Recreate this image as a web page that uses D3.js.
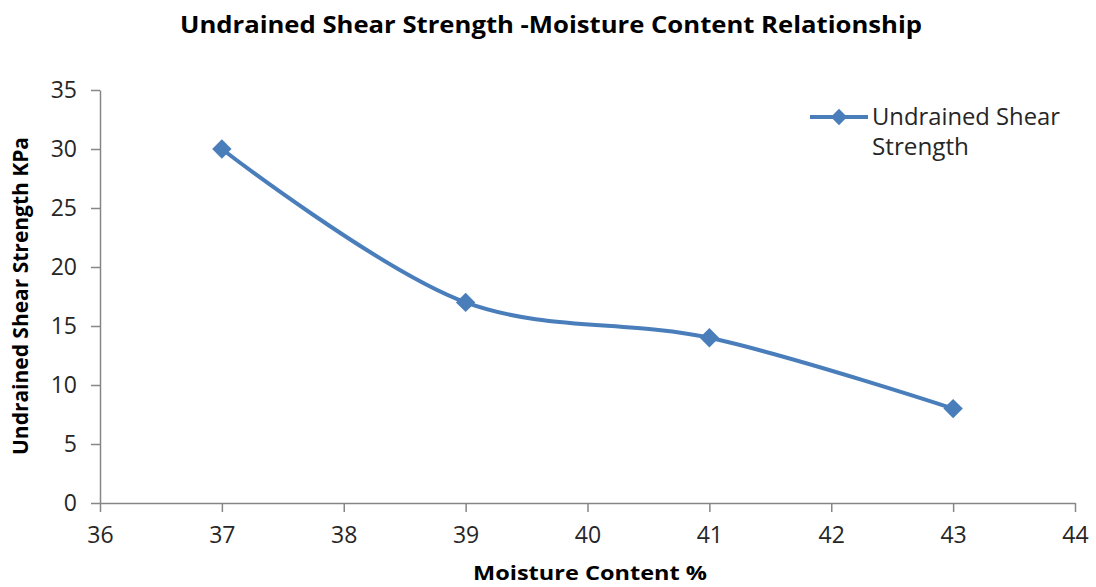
<!DOCTYPE html>
<html><head><meta charset="utf-8">
<script src="https://cdn.jsdelivr.net/npm/d3@7"></script>
<style>body{margin:0;background:#fff}svg{display:block}</style>
</head><body>
<script>
const moisture = [37, 39, 41, 43];
const strength = [30, 17, 14, 8];
const xTicks = [36, 37, 38, 39, 40, 41, 42, 43, 44];
const yTicks = [0, 5, 10, 15, 20, 25, 30, 35];
const seriesName = ["Undrained Shear", "Strength"];
const title = "Undrained Shear Strength -Moisture Content Relationship";
const xTitle = "Moisture Content %";
const yTitle = "Undrained Shear Strength KPa";

const W = 1096, H = 587;
const svg = d3.select("body").append("svg").attr("width", W).attr("height", H);
const x = d3.scaleLinear().domain([36, 44]).range([100, 1075]);
const y = d3.scaleLinear().domain([0, 35]).range([503, 90]);
const axisColor = "#868686";
const blue = "#4A7EBB";
const font = "'Open Sans', sans-serif";

const xa = svg.append("g").attr("transform", `translate(0,${y(0)})`)
  .call(d3.axisBottom(x).tickValues(xTicks).tickSize(9).tickSizeOuter(0).tickPadding(15));
const ya = svg.append("g").attr("transform", `translate(${x(36)},0)`)
  .call(d3.axisLeft(y).tickValues(yTicks).tickSize(9).tickSizeOuter(0).tickPadding(14));
[xa, ya].forEach(a => {
  a.selectAll("path,line").attr("stroke", axisColor).attr("stroke-width", 1.5);
  a.selectAll("text").attr("fill", "#262626").style("font-family", font).style("font-size", "23px");
});

const pts = moisture.map((m, i) => [x(m), y(strength[i])]);
svg.append("path").attr("d", d3.line().curve(d3.curveCatmullRom.alpha(0.5))(pts))
  .attr("fill", "none").attr("stroke", blue).attr("stroke-width", 4);
const diamond = d3.symbol().type(d3.symbolDiamond2).size(240);
svg.selectAll(".m").data(pts).join("path")
  .attr("transform", d => `translate(${d[0]},${d[1]})`).attr("d", diamond).attr("fill", blue);

svg.append("text").attr("x", 551).attr("y", 33).attr("text-anchor", "middle")
  .style("font-family", font).style("font-weight", "bold").style("font-size", "23px")
  .attr("textLength", 742).attr("lengthAdjust", "spacingAndGlyphs").text(title);
svg.append("text").attr("x", 590).attr("y", 580).attr("text-anchor", "middle")
  .style("font-family", font).style("font-weight", "bold").style("font-size", "20px")
  .attr("textLength", 234).attr("lengthAdjust", "spacingAndGlyphs").text(xTitle);
svg.append("text").attr("transform", "translate(28,296) rotate(-90)").attr("text-anchor", "middle")
  .style("font-family", font).style("font-weight", "bold").style("font-size", "21px")
  .attr("textLength", 318).attr("lengthAdjust", "spacingAndGlyphs").text(yTitle);

const lg = svg.append("g");
lg.append("line").attr("x1", 810).attr("x2", 868).attr("y1", 117).attr("y2", 117)
  .attr("stroke", blue).attr("stroke-width", 4);
lg.append("path").attr("transform", "translate(839,117)").attr("d", d3.symbol().type(d3.symbolDiamond2).size(170)).attr("fill", blue);
const lens = [188, 97];
seriesName.forEach((s, i) => lg.append("text").attr("x", 872).attr("y", 125 + i * 30)
  .style("font-family", font).style("font-size", "23px").attr("fill", "#262626")
  .attr("textLength", lens[i]).attr("lengthAdjust", "spacingAndGlyphs").text(s));
</script>
</body></html>
